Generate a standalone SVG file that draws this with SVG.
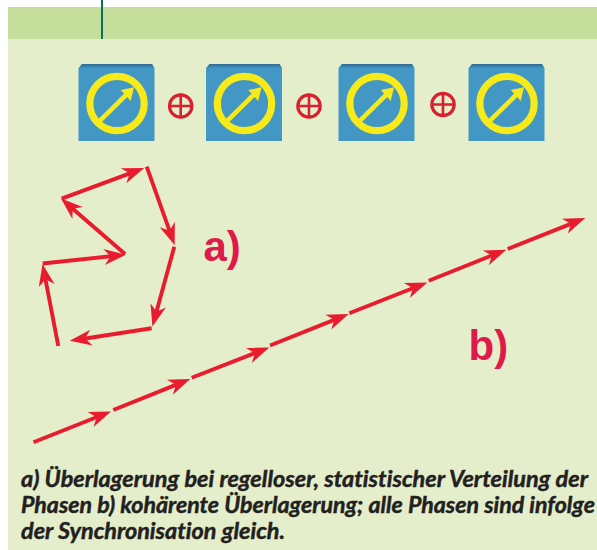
<svg xmlns="http://www.w3.org/2000/svg" width="597" height="550" viewBox="0 0 597 550">
<style>
.v{fill:none;stroke:#e81c2e;stroke-width:3.9;marker-end:url(#h)}
.block{fill:#4397c4}
.ring{fill:none;stroke:#f7ea1a;stroke-width:7.2}
.needle{fill:none;stroke:#f7ea1a;stroke-width:4.6}
.tip{fill:#f7ea1a}
.op{fill:none;stroke:#d8202e;stroke-width:3.2}
.opx{fill:none;stroke:#d8202e;stroke-width:2.6}
.lab{font-family:"Liberation Sans",Arial,sans-serif;font-weight:700;font-size:42px;fill:#e01a48}
.cap{font-family:Lato,"Open Sans",sans-serif;font-weight:700;font-style:italic;font-size:22px;fill:#231f20;stroke:#231f20;stroke-width:.45;font-variant-ligatures:none}
</style>
<defs>
<linearGradient id="topg" x1="0" y1="0" x2="0" y2="1">
<stop offset="0" stop-color="#2f6b94"/>
<stop offset="1" stop-color="#4397c4"/>
</linearGradient>
<marker id="h" markerUnits="userSpaceOnUse" markerWidth="26" markerHeight="20" refX="14" refY="10" orient="auto" viewBox="0 0 26 20">
<path d="M25 10L3 2L9.5 10L3 18Z" fill="#e81c2e"/>
</marker>
<g id="dial">
<path class="block" d="M-38.5 -35L-35 -39.5H35L37.5 -35V37.5H-38.5Z"/>
<path fill="url(#topg)" d="M-38.5 -35L-35 -39.5H35L37.5 -35Z"/>
<circle class="ring" cx="0" cy="0" r="27.2"/>
<path class="needle" d="M-17 17.2L11 -10.5"/>
<path class="tip" d="M17 -16.2L13.7 -2.5L8.5 -8.5L3.7 -13.5Z"/>
</g>
<g id="oplus">
<circle class="op" cx="0" cy="0" r="11.2"/>
<path class="opx" d="M-11 0H11M0 -11V11"/>
</g>
</defs>
<rect width="597" height="550" fill="#fff"/>
<rect x="8" y="39" width="589" height="511" fill="#e4eecb"/>
<rect x="8" y="7" width="589" height="32" fill="#c5de9c"/>
<rect id="tick" x="101" y="0" width="2" height="39" fill="#0f6f55"/>
<g id="node-dial-1"><use href="#dial" x="117" y="103.5"/></g>
<g id="node-plus-1"><use href="#oplus" x="180.7" y="106"/></g>
<g id="node-dial-2"><use href="#dial" x="244.5" y="103.5"/></g>
<g id="node-plus-2"><use href="#oplus" x="309" y="106"/></g>
<g id="node-dial-3"><use href="#dial" x="377" y="103.5"/></g>
<g id="node-plus-3"><use href="#oplus" x="443" y="104.5"/></g>
<g id="node-dial-4"><use href="#dial" x="507" y="103.5"/></g>
<g id="connectors">
<g id="vectors-a">
<path class="v" d="M58.3 346L44.6 274.8"/>
<path class="v" d="M42.7 263.5L115 255.8"/>
<path class="v" d="M125 254L69.3 205.8"/>
<path class="v" d="M61.7 198.7L133.9 171.8"/>
<path class="v" d="M146.7 166.7L171 234.9"/>
<path class="v" d="M174.3 246.7L155.3 316"/>
<path class="v" d="M151.7 328.3L80.6 339.2"/>
</g>
<g id="vectors-b">
<path class="v" d="M33.5 442.2L100.8 415.5"/>
<path class="v" d="M113.3 410L180.1 383.1"/>
<path class="v" d="M191.7 377.7L259.1 351.5"/>
<path class="v" d="M270 345.5L338.5 318.1"/>
<path class="v" d="M349.3 313.3L417.1 286.5"/>
<path class="v" d="M428.7 280.7L496.1 253.8"/>
<path class="v" d="M507.7 249L575.1 222.1"/>
</g>
</g>
<text class="lab" x="203.5" y="261">a)</text>
<text class="lab" x="468.5" y="360">b)</text>
<g id="caption">
<text class="cap" x="21" y="487" textLength="567" lengthAdjust="spacingAndGlyphs">a) Überlagerung bei regelloser, statistischer Verteilung der</text>
<text class="cap" x="21" y="513" textLength="574" lengthAdjust="spacingAndGlyphs">Phasen b) kohärente Überlagerung; alle Phasen sind infolge</text>
<text class="cap" x="21" y="539" textLength="264" lengthAdjust="spacingAndGlyphs">der Synchronisation gleich.</text>
</g>
</svg>
